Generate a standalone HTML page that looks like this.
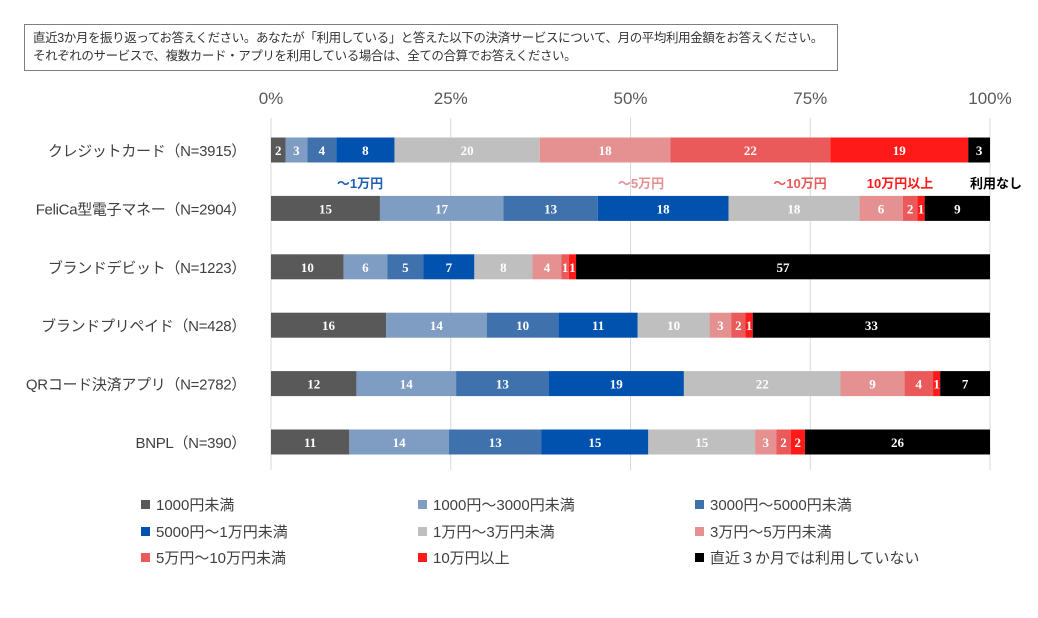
<!DOCTYPE html>
<html><head><meta charset="utf-8">
<style>
body{margin:0;background:#fff;width:1038px;height:618px;overflow:hidden;font-family:"Liberation Sans","Noto Sans CJK JP",sans-serif;}
#q{position:absolute;left:24px;top:24px;width:814px;height:47px;border:1px solid #7f7f7f;box-sizing:border-box;font-size:12.5px;letter-spacing:-0.4px;line-height:18px;padding:4px 8px;color:#333;white-space:nowrap;}
</style></head><body>
<div id="q">直近3か月を振り返ってお答えください。あなたが「利用している」と答えた以下の決済サービスについて、月の平均利用金額をお答えください。<br>それぞれのサービスで、複数カード・アプリを利用している場合は、全ての合算でお答えください。</div>
<svg id="chart" width="1038" height="618" style="position:absolute;left:0;top:0"></svg>
<script>
const categories=["クレジットカード（N=3915）","FeliCa型電子マネー（N=2904）","ブランドデビット（N=1223）","ブランドプリペイド（N=428）","QRコード決済アプリ（N=2782）","BNPL（N=390）"];
const seriesNames=["1000円未満","1000円～3000円未満","3000円～5000円未満","5000円～1万円未満","1万円～3万円未満","3万円～5万円未満","5万円～10万円未満","10万円以上","直近３か月では利用していない"];
const values=[
[2,3,4,8,20,18,22,19,3],
[15,17,13,18,18,6,2,1,9],
[10,6,5,7,8,4,1,1,57],
[16,14,10,11,10,3,2,1,33],
[12,14,13,19,22,9,4,1,7],
[11,14,13,15,15,3,2,2,26]];
const tickLabels=["0%","25%","50%","75%","100%"];
const colors=["#595959","#7f9cc2","#3f72ad","#0052ae","#bfbfbf","#e59191","#eb5a5a","#ff1a1a","#000000"];
const NS="http://www.w3.org/2000/svg";
const svg=document.getElementById("chart");
const x0=271,x1=990,bh=25;
const xs=p=>x0+(x1-x0)*p;
const yc=i=>150+i*58.4;
function mk(t,a,txt){const e=document.createElementNS(NS,t);for(const k in a)e.setAttribute(k,a[k]);if(txt!==undefined)e.textContent=txt;svg.appendChild(e);return e;}
tickLabels.forEach((t,i)=>{
 const x=xs(i/4);
 const g=mk("line",{x1:x,x2:x,y1:118,y2:470,stroke:"#d9d9d9","stroke-width":1});
 
 
 const l=mk("text",{x:x,y:104,"text-anchor":"middle","font-size":17,fill:"#595959"},t);
 
 
});
values.forEach((row,i)=>{
 const tot=row.reduce((a,b)=>a+b,0);
 const c=mk("text",{x:246,y:yc(i)+6,"text-anchor":"end","font-size":15,"letter-spacing":"-0.3",fill:"#404040"},categories[i]);
 
 
 let cum=0;
 row.forEach((v,j)=>{
  const a=xs(cum/tot),b=xs((cum+v)/tot);cum+=v;
  const r=mk("rect",{x:a,y:yc(i)-bh/2,width:b-a,height:bh,fill:colors[j]});
  
  
  const t=mk("text",{x:(a+b)/2,y:yc(i)+5,"text-anchor":"middle","font-size":13,"font-weight":"bold","font-family":"Liberation Serif,serif",fill:"#fff"},v);
  
  
 });
});
const ann=[["～1万円",360,"#1f5fb0"],["～5万円",641,"#e59191"],["～10万円",800,"#eb5a5a"],["10万円以上",900,"#ff1a1a"],["利用なし",996,"#000"]];
ann.forEach(a=>{
 const t=mk("text",{x:a[1],y:188,"text-anchor":"middle","font-size":13,"font-weight":"bold",fill:a[2]},a[0]);
 
 
});
seriesNames.forEach((n,j)=>{
 const x=[141,418,695][j%3],y=[505,532,558][Math.floor(j/3)];
 const r=mk("rect",{x:x,y:y-5,width:9,height:9,fill:colors[j]});
 
 
 const t=mk("text",{x:x+15,y:y+5,"font-size":15,fill:"#404040"},n);
 
 
});
</script>
</body></html>
